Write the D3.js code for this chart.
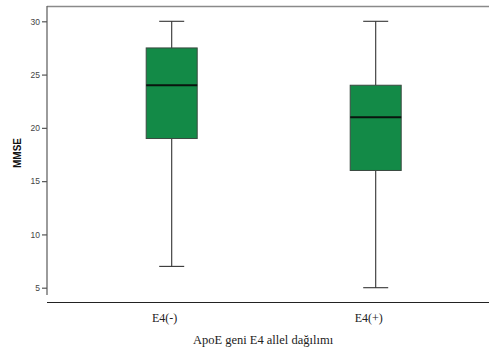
<!DOCTYPE html>
<html><head><meta charset="utf-8">
<script src="https://cdn.jsdelivr.net/npm/d3@7"></script>
<style>body{margin:0;background:#fff}svg{display:block}</style>
</head><body>
<script>
const categories = ["E4(-)", "E4(+)"];
const mins = [7, 5];
const q1s = [19, 16];
const medians = [24, 21];
const q3s = [27.5, 24];
const maxs = [30, 30];
const yTicks = [5, 10, 15, 20, 25, 30];
const yLabel = "MMSE";
const xLabel = "ApoE geni E4 allel dağılımı";

const W = 489, H = 349;
const svg = d3.select("body").append("svg").attr("width", W).attr("height", H);

const y = d3.scaleLinear().domain([5, 30]).range([287.7, 21.3]);
const x = d3.scalePoint().domain(categories).range([171.7, 375.7]);

const data = categories.map((c, i) => ({c, min: mins[i], q1: q1s[i], med: medians[i], q3: q3s[i], max: maxs[i]}));

// frame
svg.append("line").attr("x1", 47).attr("x2", W).attr("y1", 6.5).attr("y2", 6.5).attr("stroke", "#8a8a8a").attr("stroke-width", 1.5);
svg.append("line").attr("x1", 47).attr("x2", W).attr("y1", 302.5).attr("y2", 302.5).attr("stroke", "#222").attr("stroke-width", 1.2);

// y axis
const yAxis = d3.axisLeft(y).tickValues(yTicks).tickSize(5).tickPadding(2);
const ga = svg.append("g").attr("transform", "translate(47,0)").call(yAxis);
ga.select(".domain").attr("d", `M0,6V295`).attr("stroke", "#666").attr("stroke-width", 1.3);
ga.selectAll(".tick line").attr("stroke", "#555").attr("stroke-width", 1.2);
ga.selectAll(".tick text").attr("font-family", "Arial, 'Liberation Sans', sans-serif").attr("font-size", 8.5).attr("fill", "#444");

svg.append("text").attr("transform", `translate(21,153) rotate(-90)`).attr("text-anchor", "middle")
  .attr("font-family", "Arial, 'Liberation Sans', sans-serif").attr("font-weight", "bold").attr("font-size", 10).attr("fill", "#111").text(yLabel);

const g = svg.append("g").selectAll("g").data(data).join("g");
const cx = d => x(d.c);
const bw = 51, cw = 25;
g.append("line").attr("x1", cx).attr("x2", cx).attr("y1", d => y(d.max)).attr("y2", d => y(d.q3)).attr("stroke", "#333").attr("stroke-width", 1.1);
g.append("line").attr("x1", cx).attr("x2", cx).attr("y1", d => y(d.q1)).attr("y2", d => y(d.min)).attr("stroke", "#333").attr("stroke-width", 1.1);
g.append("line").attr("x1", d => cx(d) - cw / 2).attr("x2", d => cx(d) + cw / 2).attr("y1", d => y(d.max)).attr("y2", d => y(d.max)).attr("stroke", "#333").attr("stroke-width", 1.1);
g.append("line").attr("x1", d => cx(d) - cw / 2).attr("x2", d => cx(d) + cw / 2).attr("y1", d => y(d.min)).attr("y2", d => y(d.min)).attr("stroke", "#333").attr("stroke-width", 1.1);
g.append("rect").attr("x", d => cx(d) - bw / 2).attr("width", bw).attr("y", d => y(d.q3)).attr("height", d => y(d.q1) - y(d.q3))
  .attr("fill", "#138a47").attr("stroke", "#3a4a40").attr("stroke-width", 1);
g.append("line").attr("x1", d => cx(d) - bw / 2).attr("x2", d => cx(d) + bw / 2).attr("y1", d => y(d.med)).attr("y2", d => y(d.med)).attr("stroke", "#0a140e").attr("stroke-width", 2);

g.append("text").attr("x", d => cx(d) - 7).attr("y", 322).attr("text-anchor", "middle")
  .attr("font-family", "'Liberation Serif', 'Times New Roman', serif").attr("font-size", 12).attr("fill", "#222").text(d => d.c);

svg.append("text").attr("x", 263).attr("y", 344).attr("text-anchor", "middle")
  .attr("font-family", "'Liberation Serif', 'Times New Roman', serif").attr("font-size", 12.5).attr("fill", "#222").text(xLabel);
</script>
</body></html>
